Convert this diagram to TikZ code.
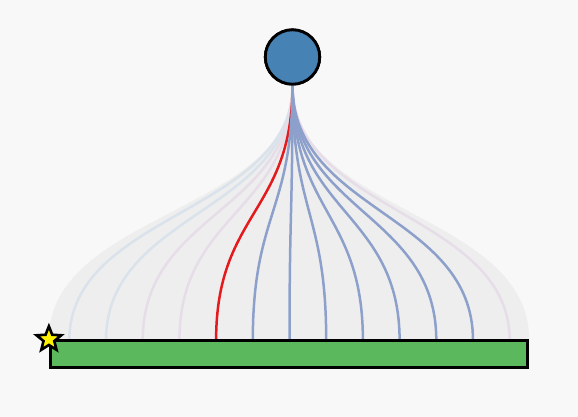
\documentclass[tikz,border=0pt]{standalone}
\usepackage[dvipsnames]{xcolor}
\usepackage{tikz}
\usetikzlibrary{shapes.geometric}

\definecolor{pagebg}{HTML}{F8F8F8}
\definecolor{hullgray}{HTML}{EEEEEE}
\definecolor{hubblue}{HTML}{4682B4}
\definecolor{barGreen}{HTML}{5CB85C}
\definecolor{linkblue}{HTML}{8DA0CB}
\definecolor{linkred}{HTML}{E41A1C}
\definecolor{paleblue}{HTML}{DAE2EB}
\definecolor{palepink}{HTML}{E6DDE8}

\begin{document}
\begin{tikzpicture}
				[
					x = 1pt, y = -1pt,
					hub/.style = {circle, draw = black, line width = 2.8pt, fill = hubblue, minimum size = 54.4pt, inner sep = 0pt},
					bar/.style = {rectangle, draw = black, line width = 2.8pt, fill = barGreen, minimum width = 477.4pt, minimum height = 27pt, inner sep = 0pt},
					marker/.style = {star, star points = 5, star point ratio = 2.3, draw = black, line width = 2.6pt, fill = yellow, minimum size = 26pt, inner sep = 0pt},
					link/.style = {line width = 2.5pt, linkblue},
					hotlink/.style = {line width = 2.5pt, linkred},
					ghostA/.style = {line width = 2.5pt, paleblue},
					ghostB/.style = {line width = 2.5pt, palepink}
				]
				\fill[pagebg] (0,0) rectangle (578,417);
				\useasboundingbox (0,0) rectangle (578,417);

				\node[hub] (root) at (292.5,57) {};
				\coordinate (bend) at (292.5,212.5);
				\path (289,354.2) node[bar] (base) {};

				% fan targets on top of the bar
				\coordinate (t0) at (69.3,340.5);
				\coordinate (t1) at (106,340.5);
				\coordinate (t2) at (142.7,340.5);
				\coordinate (t3) at (179.4,340.5);
				\coordinate (t4) at (216.1,340.5);
				\coordinate (t5) at (252.8,340.5);
				\coordinate (t6) at (289.5,340.5);
				\coordinate (t7) at (326.2,340.5);
				\coordinate (t8) at (362.9,340.5);
				\coordinate (t9) at (399.6,340.5);
				\coordinate (t10) at (436.3,340.5);
				\coordinate (t11) at (473,340.5);
				\coordinate (t12) at (509.7,340.5);

				% hull behind the links
				\fill[hullgray] (root.south) .. controls (bend) and (bend -| base.west) .. (base.north west)
					-- (base.north east) .. controls (bend -| base.east) and (bend) .. (root.south);

				\draw[ghostA] (root.south) .. controls (bend) and (bend -| t0) .. (t0);
				\draw[ghostA] (root.south) .. controls (bend) and (bend -| t1) .. (t1);
				\draw[ghostB] (root.south) .. controls (bend) and (bend -| t2) .. (t2);
				\draw[ghostB] (root.south) .. controls (bend) and (bend -| t3) .. (t3);
				\draw[ghostB] (root.south) .. controls (bend) and (bend -| t12) .. (t12);
				\draw[hotlink] (root.south) .. controls (bend) and (bend -| t4) .. (t4);
				\draw[link] (root.south) .. controls (bend) and (bend -| t5) .. (t5);
				\draw[link] (root.south) .. controls (bend) and (bend -| t6) .. (t6);
				\draw[link] (root.south) .. controls (bend) and (bend -| t7) .. (t7);
				\draw[link] (root.south) .. controls (bend) and (bend -| t8) .. (t8);
				\draw[link] (root.south) .. controls (bend) and (bend -| t9) .. (t9);
				\draw[link] (root.south) .. controls (bend) and (bend -| t10) .. (t10);
				\draw[link] (root.south) .. controls (bend) and (bend -| t11) .. (t11);

				% redraw nodes on top
				\node[hub] at (root) {};
				\node[bar] at (base) {};
				\node[marker] (flag) at (base.north west) {};
		\end{tikzpicture}
\end{document}
